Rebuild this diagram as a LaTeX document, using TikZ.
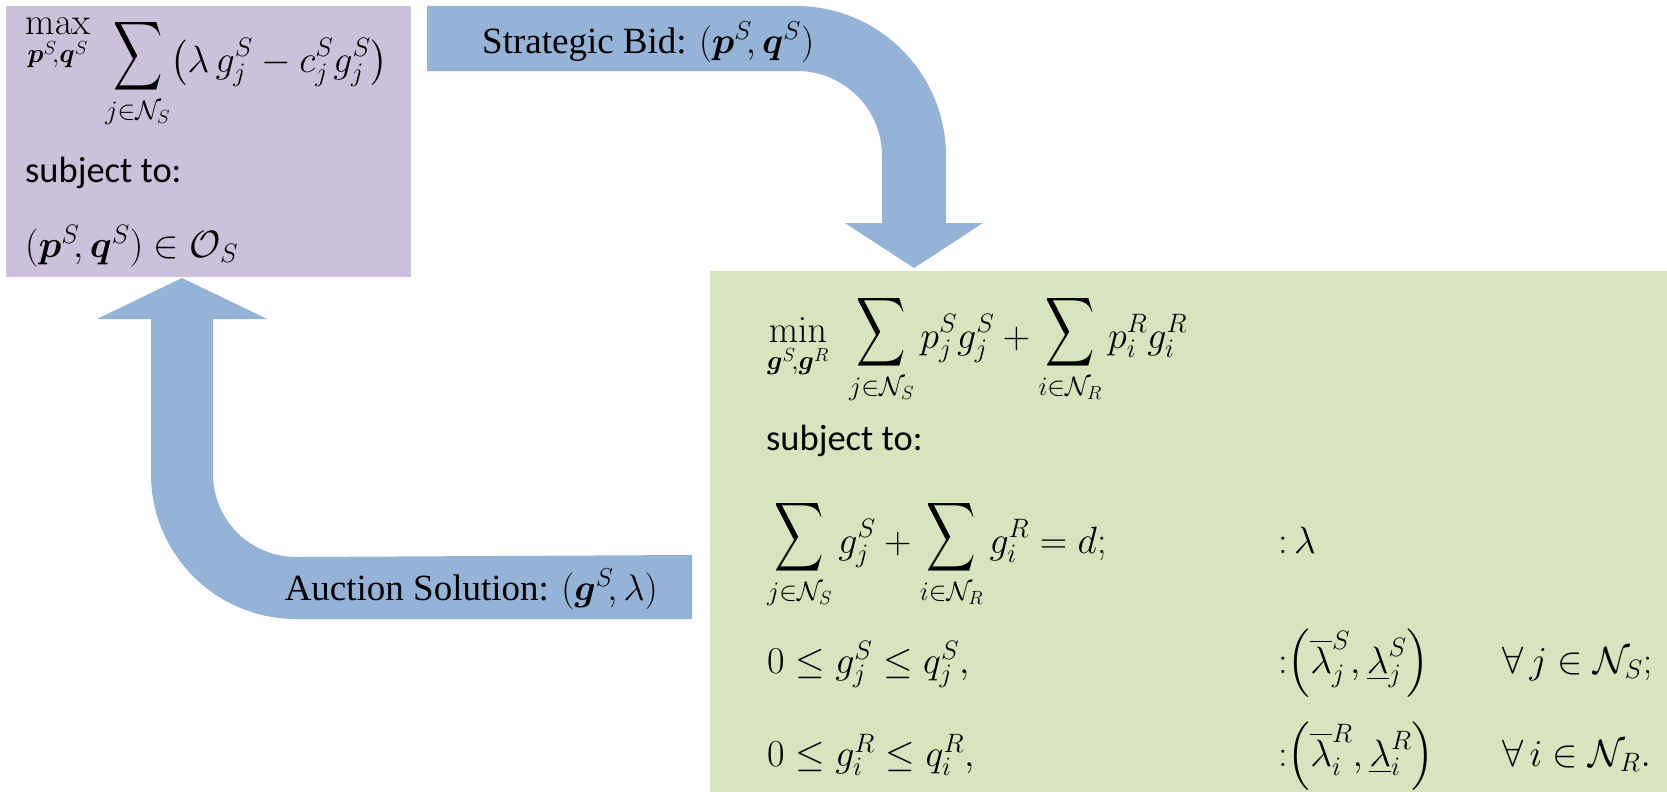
\RequirePackage{fix-cm}
\documentclass[tikz,border=0pt]{standalone}
\usepackage{amsmath,amssymb,graphicx}
\usepackage[no-math]{fontspec}
\setmainfont{Carlito}
\newfontfamily\timesf{Liberation Serif}
\definecolor{purplebox}{HTML}{CCC1DA}
\definecolor{greenbox}{HTML}{D7E4BD}
\definecolor{arrowblue}{HTML}{95B3D7}
\newcommand{\Sum}{\mathop{\raisebox{6pt}{$\vcenter{\hbox{\scalebox{0.9}[1.27]{$\displaystyle\sum$}}}$}}\limits}
\begin{document}
\begin{tikzpicture}[x=1pt,y=1pt,
  mtxt/.style={anchor=base west, inner sep=0pt, font=\fontsize{38}{44}\selectfont},
  ptxt/.style={anchor=base west, inner sep=0pt, font=\fontsize{36.5}{42}\selectfont},
  lbl/.style={anchor=base west, inner sep=0pt, font=\fontsize{37}{42}\selectfont\timesf},
  blockarrow/.style={fill=arrowblue}]
\useasboundingbox (0,0) rectangle (1667,-792);
\fill[white] (0,0) rectangle (1667,-792);
\node[fill=purplebox, anchor=north west, inner sep=0pt, minimum width=405pt, minimum height=271pt] (boxS) at (6,-6) {};
\node[fill=greenbox, anchor=north west, inner sep=0pt, minimum width=957pt, minimum height=521pt] (boxA) at (710,-271) {};
% top block arrow
\fill[blockarrow] (427,-6) -- (796,-6) arc[start angle=90, end angle=0, radius=150]
  -- (946,-223) -- (983,-223) -- (914,-268) -- (845,-223) -- (882,-223) -- (882,-156)
  arc[start angle=0, end angle=90, radius=85] -- (427,-71) -- cycle;
% bottom block arrow
\fill[blockarrow] (692,-619) -- (296,-619) arc[start angle=270, end angle=180, radius=145]
  -- (151,-319) -- (97,-319) -- (182,-278) -- (267,-319) -- (213,-319) -- (213,-474)
  arc[start angle=180, end angle=270, radius=83] -- (692,-555) -- cycle;
\node[lbl] (bid) at (482,-53) {Strategic Bid: $(\boldsymbol{p}^S\!, \boldsymbol{q}^S)$};
\node[lbl, anchor=base east] (sol) at (658,-600) {Auction Solution: $(\boldsymbol{g}^S\!, \lambda)$};
% strategic box
\node[mtxt] (objS) at (25,-72) {$\raisebox{37pt}{$\displaystyle\max_{\boldsymbol{p}^S\!,\boldsymbol{q}^S}$}\ \displaystyle\Sum_{j\in\mathcal{N}_S}\bigl(\lambda\, g_j^S - c_j^S g_j^S\bigr)$};
\node[ptxt] (stS) at (25,-182) {subject to:};
\node[mtxt] (cS) at (25,-257) {$(\boldsymbol{p}^S\!, \boldsymbol{q}^S) \in \mathcal{O}_S$};
% auction box
\node[mtxt] (objA) at (767,-348) {$\raisebox{6pt}{$\displaystyle\min_{\boldsymbol{g}^S\!,\boldsymbol{g}^R}$}\hspace{14pt}\displaystyle\Sum_{j\in\mathcal{N}_S} p_j^S g_j^S + \Sum_{i\in\mathcal{N}_R} p_i^R g_i^R$};
\node[ptxt] (stA) at (766,-450) {subject to:};
\node[mtxt] (c1) at (767,-553) {$\displaystyle\Sum_{j\in\mathcal{N}_S} g_j^S + \Sum_{i\in\mathcal{N}_R} g_i^R = d;$};
\node[mtxt] (d1) at (1278,-553) {${:}\,\lambda$};
\node[mtxt] (c2) at (767,-673) {$0\le g_j^S\le q_j^S,$};
\node[mtxt] (d2) at (1278,-673) {${:}\Bigl(\overline{\lambda}_j^S, \underline{\lambda}_j^S\Bigr)$};
\node[mtxt] (f2) at (1502,-673) {$\forall\, j\in\mathcal{N}_S;$};
\node[mtxt] (c3) at (767,-766) {$0\le g_i^R\le q_i^R,$};
\node[mtxt] (d3) at (1278,-766) {${:}\Bigl(\overline{\lambda}_i^R, \underline{\lambda}_i^R\Bigr)$};
\node[mtxt] (f3) at (1502,-766) {$\forall\, i\in\mathcal{N}_R.$};
\end{tikzpicture}
\end{document}
